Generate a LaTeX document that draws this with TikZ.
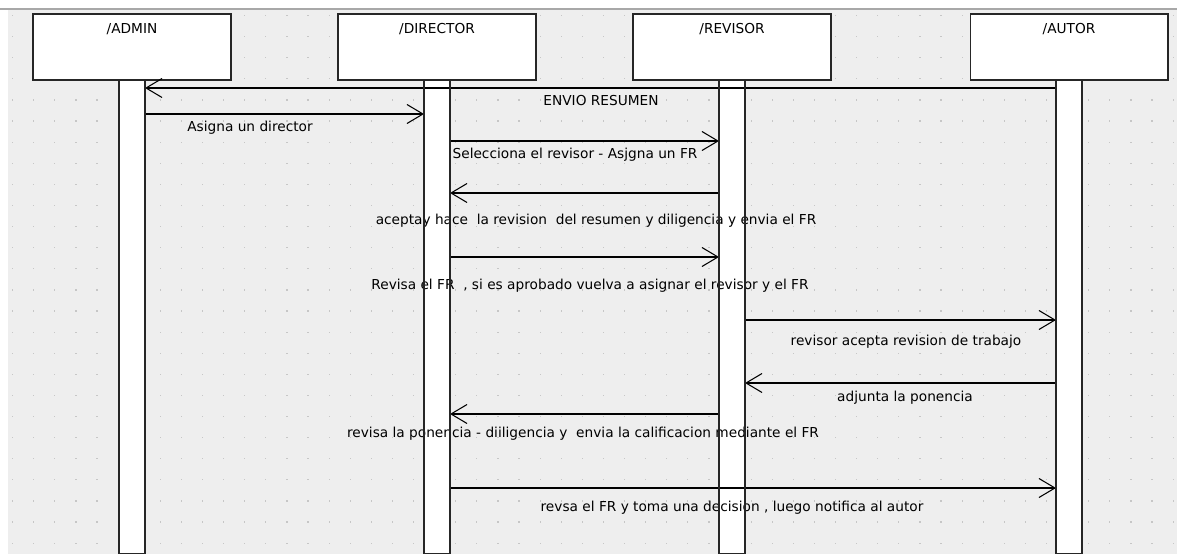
\documentclass[tikz,border=0pt]{standalone}
\usepackage{fontspec}
\setmainfont{DejaVu Sans}
\usetikzlibrary{positioning,arrows.meta}
\definecolor{canvas}{HTML}{EEEEEE}
\definecolor{griddot}{HTML}{C6C6C6}
\definecolor{frameline}{HTML}{A8A8A8}
\tikzstyle{lifehead} = [draw=black!85, fill=white, rectangle, minimum width=3.96cm, minimum height=1.32cm, outer sep=0pt, inner sep=0pt]
\tikzstyle{headlabel} = [inner sep=0pt, font=\fontsize{7.8}{9}\selectfont]
\tikzstyle{lifebar} = [draw=black!85, fill=white, rectangle, minimum width=0.52cm, minimum height=9.48cm, outer sep=0pt, inner sep=0pt]
\tikzstyle{msg} = [draw, -{Straight Barb[length=0.32cm, width=0.38cm]}]
\tikzstyle{msglabel} = [inner sep=0pt, font=\fontsize{7.8}{9}\selectfont]

\begin{document}
\begin{tikzpicture}[x=0.02cm, y=-0.02cm, node distance=0pt, line width=0.6pt]
    \useasboundingbox (0,0) rectangle (1177,554);

    % Canvas and grid dots
    \fill[white] (0,0) rectangle (1177,554);
    \fill[canvas] (8,9) rectangle (1177,554);
    \draw[frameline] (0,9) -- (1177,9);
    \foreach \i in {0,...,55}
      \foreach \j in {0,...,25}
        \fill[griddot] ({12+21.1*\i},{15+21.1*\j}) rectangle ++(1.2,1.2);

    % Place nodes
    \node [lifehead] (admin) at (132,47) {};
    \node [lifehead] (director) at (437,47) {};
    \node [lifehead] (revisor) at (732,47) {};
    \node [lifehead] (autor) at (1069,47) {};
    \node [headlabel, below=0.17cm of admin.north] (admin-t) {/ADMIN};
    \node [headlabel, below=0.17cm of director.north] (director-t) {/DIRECTOR};
    \node [headlabel, below=0.17cm of revisor.north] (revisor-t) {/REVISOR};
    \node [headlabel, below=0.17cm of autor.north] (autor-t) {/AUTOR};
    \node [lifebar, below=of admin] (adminbar) {};
    \node [lifebar, below=of director] (directorbar) {};
    \node [lifebar, below=of revisor] (revisorbar) {};
    \node [lifebar, below=of autor] (autorbar) {};

    % Draw edges
    \path [msg] (autorbar.west |- 0,88) -- (adminbar.east |- 0,88);
    \path [msg] (adminbar.east |- 0,114) -- (directorbar.west |- 0,114);
    \path [msg] (directorbar.east |- 0,141) -- (revisorbar.west |- 0,141);
    \path [msg] (revisorbar.west |- 0,193) -- (directorbar.east |- 0,193);
    \path [msg] (directorbar.east |- 0,257) -- (revisorbar.west |- 0,257);
    \path [msg] (revisorbar.east |- 0,320) -- (autorbar.west |- 0,320);
    \path [msg] (autorbar.west |- 0,383) -- (revisorbar.east |- 0,383);
    \path [msg] (revisorbar.west |- 0,414) -- (directorbar.east |- 0,414);
    \path [msg] (directorbar.east |- 0,488) -- (autorbar.west |- 0,488);

    % Message labels
    \node [msglabel] (envio) at (601,101) {ENVIO RESUMEN};
    \node [msglabel] (asigna) at (250,128) {Asigna un director};
    \node [msglabel] (selecciona) at (575,155) {Selecciona el revisor - Asjgna un FR};
    \node [msglabel] (acepta) at (596,221) {aceptay hace\ \ la revision\ \ del resumen y diligencia y envia el FR};
    \node [msglabel] (revisa) at (590,286) {Revisa el FR\ \ , si es aprobado vuelva a asignar el revisor y el FR};
    \node [msglabel] (trabajo) at (906,342) {revisor acepta revision de trabajo};
    \node [msglabel] (adjunta) at (905,398) {adjunta la ponencia};
    \node [msglabel] (califica) at (583,434) {revisa la ponencia - diiligencia y\ \ envia la calificacion mediante el FR};
    \node [msglabel] (decision) at (732,508) {revsa el FR y toma una decision , luego notifica al autor};

    % Bar outlines over the labels
    \foreach \b in {adminbar,directorbar,revisorbar,autorbar}
      \draw [black!85] (\b.north west) rectangle (\b.south east);
\end{tikzpicture}
\end{document}
